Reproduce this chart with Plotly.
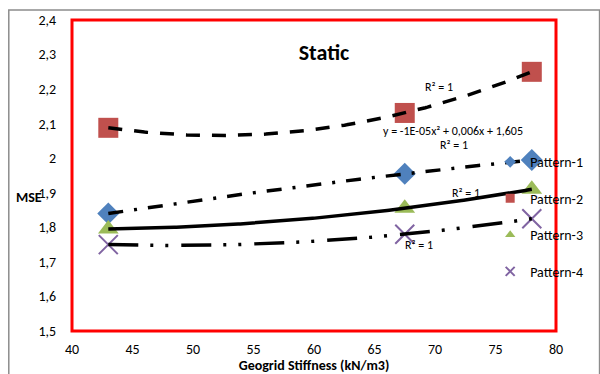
import numpy as np
import plotly.graph_objects as go

# ---- data ----
stiffness = [43, 67.5, 78]
pattern1 = [1.84, 1.955, 1.995]
pattern2 = [2.088, 2.131, 2.25]
pattern3 = [1.795, 1.855, 1.91]
pattern4 = [1.75, 1.78, 1.825]
names = ["Pattern-1", "Pattern-2", "Pattern-3", "Pattern-4"]
x_ticks = [40, 45, 50, 55, 60, 65, 70, 75, 80]
y_ticks = [1.5, 1.6, 1.7, 1.8, 1.9, 2.0, 2.1, 2.2, 2.3, 2.4]

series = [pattern1, pattern2, pattern3, pattern4]
colors = ["#4F81BD", "#C0504D", "#9BBB59", "#8064A2"]
symbols = ["diamond", "square", "triangle-up", "x-thin-open"]
msizes = [17, 20, 18, 19]
dashes = ["15px,11px,3px,11px", "14px,12px", "solid",
          "30px,12px,3px,12px,3px,13px"]

FONT = "Carlito, Lato, sans-serif"
fig = go.Figure()

# markers
for i, ys in enumerate(series):
    mk = dict(symbol=symbols[i], size=msizes[i], color=colors[i])
    if symbols[i] == "x-thin-open":
        mk["line"] = dict(color=colors[i], width=2)
    fig.add_trace(go.Scatter(x=stiffness, y=ys, mode="markers", marker=mk,
                             showlegend=False, hoverinfo="x+y"))

# polynomial (order 2) trendlines drawn over markers
xs = np.linspace(min(stiffness), max(stiffness), 200)
for i, ys in enumerate(series):
    c = np.polyfit(stiffness, ys, 2)
    fig.add_trace(go.Scatter(x=xs, y=np.polyval(c, xs), mode="lines",
                             line=dict(color="black", width=3.5, dash=dashes[i]),
                             showlegend=False, hoverinfo="skip"))

# legend entries (small symbols)
for i in range(4):
    mk = dict(symbol=symbols[i], size=9, color=colors[i])
    if symbols[i] == "x-thin-open":
        mk["line"] = dict(color=colors[i], width=2)
    fig.add_trace(go.Scatter(x=[None], y=[None], mode="markers", marker=mk,
                             name=names[i], legendgroup=names[i]))

ann_font = dict(family=FONT, size=12, color="#000")
annotations = [
    dict(x=70.3, y=2.206, text="R² = 1"),
    dict(x=71.5, y=2.079, text="y = -1E-05x² + 0,006x + 1,605"),
    dict(x=71.6, y=2.038, text="R² = 1"),
    dict(x=72.6, y=1.900, text="R² = 1"),
    dict(x=68.7, y=1.749, text="R² = 1"),
]
for a in annotations:
    fig.add_annotation(x=a["x"], y=a["y"], text=a["text"], showarrow=False,
                       font=ann_font, xref="x", yref="y")

# y-axis label horizontal, bold
fig.add_annotation(x=-0.12, y=0.43, xref="paper", yref="paper", text="<b>MSE</b>",
                   showarrow=False, xanchor="left", yanchor="middle",
                   font=dict(family=FONT, size=14, color="#000"))

# outer chart border and red plot border
fig.add_shape(type="rect", xref="paper", yref="paper", x0=-0.1306, x1=1.09,
              y0=-0.2, y1=1.032, line=dict(color="#8c8c8c", width=1.5), layer="below")
fig.add_shape(type="rect", xref="paper", yref="paper", x0=0, x1=1, y0=0, y1=1,
              line=dict(color="red", width=3), layer="above")

fig.update_layout(
    width=600, height=374,
    margin=dict(l=72, r=38, t=20, b=43),
    paper_bgcolor="white", plot_bgcolor="white",
    separators=",.",
    font=dict(family=FONT, size=14, color="#000"),
    title=dict(text="<b>Static</b>", x=0.54, y=0.861, xanchor="center", yanchor="middle",
               xref="container", yref="container",
               font=dict(family=FONT, size=22, color="#000")),
    legend=dict(x=0.864, y=0.594, xanchor="left", yanchor="top",
                bgcolor="rgba(0,0,0,0)", borderwidth=0, tracegroupgap=15.3,
                font=dict(family=FONT, size=14, color="#000"), itemwidth=30),
    xaxis=dict(range=[40, 80], tickvals=x_ticks, showgrid=False, zeroline=False,
               showline=True, linecolor="#8c8c8c", linewidth=1, ticks="",
               ticklabelstandoff=5, automargin=False,
               tickfont=dict(family=FONT, size=14),
               title=dict(text="<b>Geogrid Stiffness (kN/m3)</b>", standoff=12,
                          font=dict(family=FONT, size=14))),
    yaxis=dict(range=[1.5, 2.4], tickvals=y_ticks, showgrid=False, zeroline=False,
               showline=True, linecolor="#8c8c8c", linewidth=1, ticks="",
               ticklabelstandoff=12, automargin=False,
               tickformat=".1~f", tickfont=dict(family=FONT, size=14)),
)

fig.write_html("out.html")
